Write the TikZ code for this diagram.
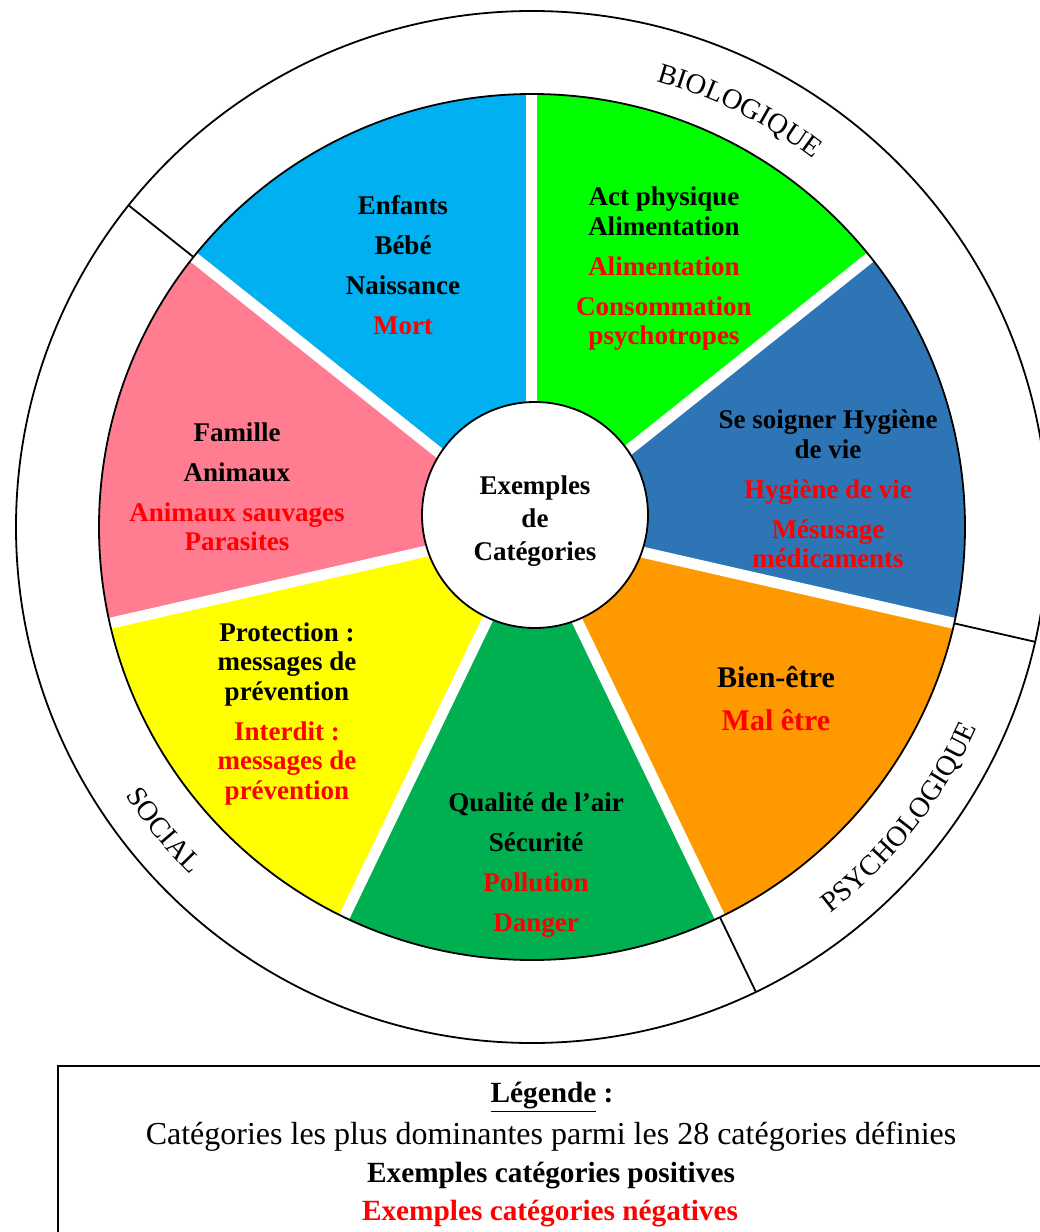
\documentclass[tikz,border=0pt]{standalone}
\usepackage{fontspec}
\setmainfont{Liberation Serif}
\usepackage{xcolor}
\usetikzlibrary{decorations.text}
\definecolor{enfbleu}{RGB}{0,176,240}
\definecolor{alivert}{RGB}{0,255,0}
\definecolor{soinbleu}{RGB}{46,117,182}
\definecolor{bienorange}{RGB}{255,153,0}
\definecolor{airvert}{RGB}{0,176,80}
\definecolor{protjaune}{RGB}{255,255,0}
\definecolor{famrose}{RGB}{255,124,145}
\newcommand{\ringfont}{\fontsize{28.5}{30}\selectfont}
\newcommand{\negcat}[1]{\textcolor{red}{#1}}

\begin{document}
\begin{tikzpicture}[x=1pt,y=1pt,
  parttxt/.style={font=\bfseries\fontsize{27}{29.5}\selectfont,align=center},
  gapline/.style={white,line width=11pt},
  rim/.style={black,line width=1.8pt},
  legtxt/.style={font=\bfseries\fontsize{29.3}{34}\selectfont}]
\useasboundingbox (-532,-705) rectangle (508,527);
% the seven slices (clockwise from the top)
\fill[alivert] (0,0) -- (90:433) arc[start angle=90,end angle=38.571,radius=433] -- cycle;
\fill[soinbleu] (0,0) -- (38.571:433) arc[start angle=38.571,end angle=-12.857,radius=433] -- cycle;
\fill[bienorange] (0,0) -- (-12.857:433) arc[start angle=-12.857,end angle=-64.286,radius=433] -- cycle;
\fill[airvert] (0,0) -- (-64.286:433) arc[start angle=-64.286,end angle=-115.714,radius=433] -- cycle;
\fill[protjaune] (0,0) -- (-115.714:433) arc[start angle=-115.714,end angle=-167.143,radius=433] -- cycle;
\fill[famrose] (0,0) -- (-167.143:433) arc[start angle=-167.143,end angle=-218.571,radius=433] -- cycle;
\fill[enfbleu] (0,0) -- (141.429:433) arc[start angle=141.429,end angle=90,radius=433] -- cycle;
% white gaps between slices
\draw[gapline] (0,0) -- (90:436);
\draw[gapline] (0,0) -- (38.571:436);
\draw[gapline] (0,0) -- (-12.857:436);
\draw[gapline] (0,0) -- (-64.286:436);
\draw[gapline] (0,0) -- (-115.714:436);
\draw[gapline] (0,0) -- (-167.143:436);
\draw[gapline] (0,0) -- (141.429:436);
% pie rim and outer ring
\draw[rim] (0,0) circle (433);
\draw[rim] (0,0) circle (516);
\draw[rim] (141.429:433) -- (141.429:516);
\draw[rim] (-12.857:433) -- (-12.857:516);
\draw[rim] (-64.286:433) -- (-64.286:516);
% ring labels (curved)
\path[decorate,decoration={text along path,text align=center,
  text={|\ringfont|BIOLOGIQUE}}]
  (83.5:463) arc[start angle=83.5,end angle=43.5,radius=463];
\path[decorate,decoration={text along path,text align=center,
  text={|\ringfont|PSYCHOLOGIQUE}}]
  (-63.3:488) arc[start angle=-63.3,end angle=-13.3,radius=488];
\path[decorate,decoration={text along path,text align=center,
  text={|\ringfont|SOCIAL}}]
  (199.5:487) arc[start angle=199.5,end angle=239.5,radius=487];
% slice texts
\node[parttxt] (enfants) at (-129,262) {Enfants\\[10.5pt]Bébé\\[10.5pt]Naissance\\[10.5pt]\negcat{Mort}};
\node[parttxt] (alim) at (132,258) {Act physique\\Alimentation\\[10.5pt]\negcat{Alimentation}\\[10.5pt]\negcat{Consommation}\\\negcat{psychotropes}};
\node[parttxt] (soin) at (296,38) {Se soigner Hygiène\\de vie\\[10.5pt]\negcat{Hygiène de vie}\\[10.5pt]\negcat{Mésusage}\\\negcat{médicaments}};
\node[parttxt,font=\bfseries\fontsize{30}{43}\selectfont] (bienetre) at (244,-171.5) {Bien-être\\\negcat{Mal être}};
\node[parttxt] (air) at (4,-338) {Qualité de l’air\\[10.5pt]Sécurité\\[10.5pt]\negcat{Pollution}\\[10.5pt]\negcat{Danger}};
\node[parttxt] (protection) at (-245,-187) {Protection :\\messages de\\prévention\\[10.5pt]\negcat{Interdit :}\\\negcat{messages de}\\\negcat{prévention}};
\node[parttxt] (famille) at (-295,40) {Famille\\[10.5pt]Animaux\\[10.5pt]\negcat{Animaux sauvages}\\\negcat{Parasites}};
% centre
\node[circle,draw,rim,fill=white,minimum size=226pt,inner sep=0pt] (centre) at (3,12) {};
\node[font=\bfseries\fontsize{27}{33}\selectfont,align=center] (centretxt) at (3,6) {Exemples\\de\\Catégories};
% legend box
\draw[line width=1.2pt] (-474,-539) rectangle (540,-720);
\node[legtxt] (legtitre) at (20,-570) {\underline{Légende} :};
\node[font=\fontsize{32}{36}\selectfont] (legdesc) at (19,-610) {Catégories les plus dominantes parmi les 28 catégories définies};
\node[legtxt] (legpos) at (19,-649) {Exemples catégories positives};
\node[legtxt,text=red] (legneg) at (18,-687) {Exemples catégories négatives};
\end{tikzpicture}
\end{document}
